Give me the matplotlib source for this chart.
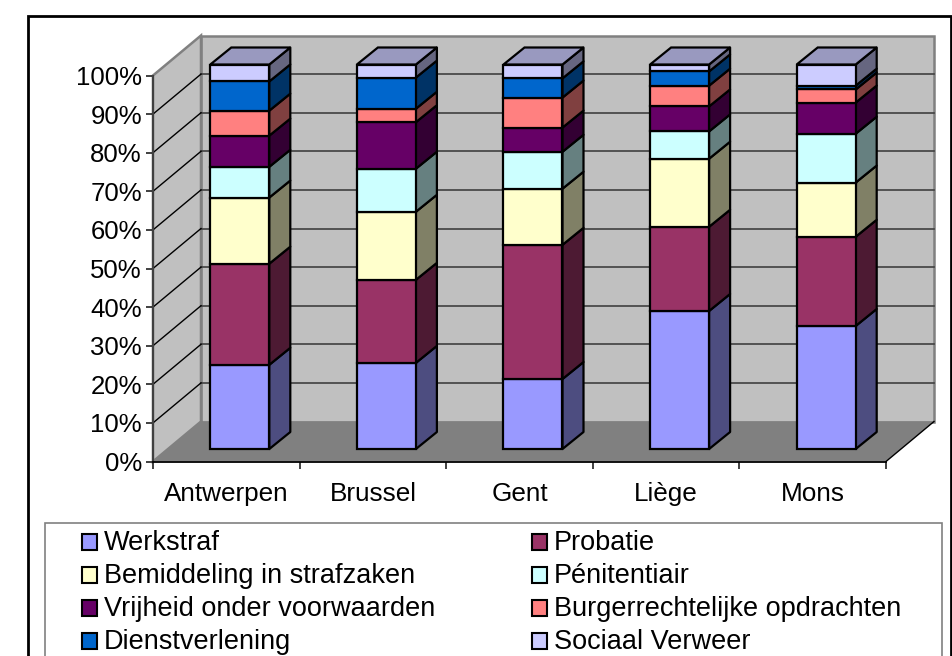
import matplotlib
matplotlib.use("Agg")
import matplotlib.pyplot as plt
from matplotlib.patches import Polygon, Rectangle

plt.rcParams["font.family"] = ["Liberation Sans", "DejaVu Sans"]

cities = ["Antwerpen", "Brussel", "Gent", "Liège", "Mons"]
series = ["Werkstraf", "Probatie", "Bemiddeling in strafzaken", "Pénitentiair",
          "Vrijheid onder voorwaarden", "Burgerrechtelijke opdrachten",
          "Dienstverlening", "Sociaal Verweer"]
werkstraf = [21.9, 22.4, 18.2, 35.9, 32.0]
probatie = [26.3, 21.6, 34.9, 21.9, 23.2]
bemiddeling = [17.2, 17.7, 14.6, 17.7, 14.1]
penitentiair = [8.0, 11.2, 9.6, 7.1, 12.7]
vrijheid = [8.1, 12.1, 6.3, 6.5, 8.1]
burger = [6.5, 3.5, 7.8, 5.4, 3.4]
dienst = [7.6, 8.1, 5.0, 3.7, 1.0]
sociaal = [4.4, 3.4, 3.6, 1.8, 5.5]
values = [werkstraf, probatie, bemiddeling, penitentiair, vrijheid, burger, dienst, sociaal]

front_colors = ["#9999ff", "#993366", "#ffffcc", "#ccffff", "#660066", "#ff8080", "#0066cc", "#ccccff"]
side_colors = ["#4d4d80", "#4d1a33", "#808066", "#668080", "#330033", "#804040", "#003366", "#666680"]
top_color = "#9999bf"

W, H = 953, 656
fig = plt.figure(figsize=(W / 100, H / 100), dpi=100)

# page layer in pixels: outer frame and legend box run off the bottom of the picture
page = fig.add_axes([0, 0, 1, 1])
page.set_xlim(0, W)
page.set_ylim(H, 0)
page.axis("off")
page.add_patch(Rectangle((28, 16), 923, 700, fc="white", ec="black", lw=2))
page.add_patch(Rectangle((45, 523), 897, 200, fc="white", ec="#808080", lw=1.2))

rows = [542, 575, 608, 641]
cols = [82, 532]
for i, name in enumerate(series):
    px = cols[i % 2]
    py = rows[i // 2]
    page.add_patch(Rectangle((px, py - 8), 15, 16, fc=front_colors[i], ec="black", lw=1.5))
    page.text(px + 22, py + 8, name, fontsize=19.5, va="baseline", ha="left", color="black")

# chart on the front plane of the 3d box
x0, x1, y0, y1 = 153, 886, 461.5, 75.5
ax = fig.add_axes([x0 / W, 1 - y0 / H, (x1 - x0) / W, (y0 - y1) / H])
ax.set_xlim(0, len(cities))
ax.set_ylim(0, 100)
ax.patch.set_alpha(0)
for s in ax.spines.values():
    s.set_visible(False)

ux = (x1 - x0) / len(cities)
uy = (y0 - y1) / 100
wall_dx = 48 / ux
wall_dy = 40 / uy

grey = "#c0c0c0"
edge = "#808080"
# back wall, left wall, floor
ax.add_patch(Polygon([(wall_dx, wall_dy), (5 + wall_dx, wall_dy), (5 + wall_dx, 100 + wall_dy), (wall_dx, 100 + wall_dy)],
                     fc=grey, ec=edge, lw=1.8, clip_on=False, zorder=1))
ax.add_patch(Polygon([(0, 0), (wall_dx, wall_dy), (wall_dx, 100 + wall_dy), (0, 100)],
                     fc=grey, ec=edge, lw=1.8, clip_on=False, zorder=1))
ax.add_patch(Polygon([(0, 0), (5, 0), (5 + wall_dx, wall_dy), (wall_dx, wall_dy)],
                     fc="#808080", ec="none", clip_on=False, zorder=1.5))
ax.plot([5, 5 + wall_dx], [0, wall_dy], color="black", lw=1, clip_on=False, zorder=2)

for t in range(10, 100, 10):
    ax.plot([wall_dx, 5 + wall_dx], [t + wall_dy, t + wall_dy], color="#404040", lw=1.2, clip_on=False, zorder=2)
    ax.plot([0, wall_dx], [t, t + wall_dy], color="black", lw=1, clip_on=False, zorder=2)

ax.plot([0, 0], [0, 100], color="#404040", lw=1.5, clip_on=False, zorder=3)
ax.plot([0, 5], [0, 0], color="black", lw=1.3, clip_on=False, zorder=3)

# bars
bar_w = 59 / ux
front_dx, front_dy = 13.5 / ux, 12.5 / uy
depth_x, depth_y = 21 / ux, 17 / uy
bar_scale = 384.5 / (y0 - y1)
lw = 1.6

for c in range(len(cities)):
    left = c + 0.5 + front_dx - bar_w / 2
    right = left + bar_w
    base = front_dy
    for s in range(len(series)):
        h = values[s][c] * bar_scale
        ax.add_patch(Polygon([(right, base), (right + depth_x, base + depth_y),
                              (right + depth_x, base + h + depth_y), (right, base + h)],
                             fc=side_colors[s], ec="black", lw=lw, joinstyle="round", clip_on=False, zorder=4))
        ax.bar(left, h, bar_w, bottom=base, align="edge", color=front_colors[s],
               edgecolor="black", linewidth=lw, clip_on=False, zorder=5)
        base += h
    ax.add_patch(Polygon([(left, base), (right, base), (right + depth_x, base + depth_y), (left + depth_x, base + depth_y)],
                         fc=top_color, ec="black", lw=lw, clip_on=False, zorder=5))

ax.set_xticks(range(len(cities) + 1))
ax.set_xticklabels([""] * (len(cities) + 1))
for c, name in enumerate(cities):
    ax.text(c + 0.5, -10.15, name, fontsize=18.8, ha="center", va="baseline", color="black")
ax.set_yticks(range(0, 101, 10))
ax.set_yticklabels([f"{t}%" for t in range(0, 101, 10)], fontsize=18.5)
ax.tick_params(axis="both", length=5, width=1.2, color="#202020", pad=3)

fig.savefig("out.png", dpi=100)
